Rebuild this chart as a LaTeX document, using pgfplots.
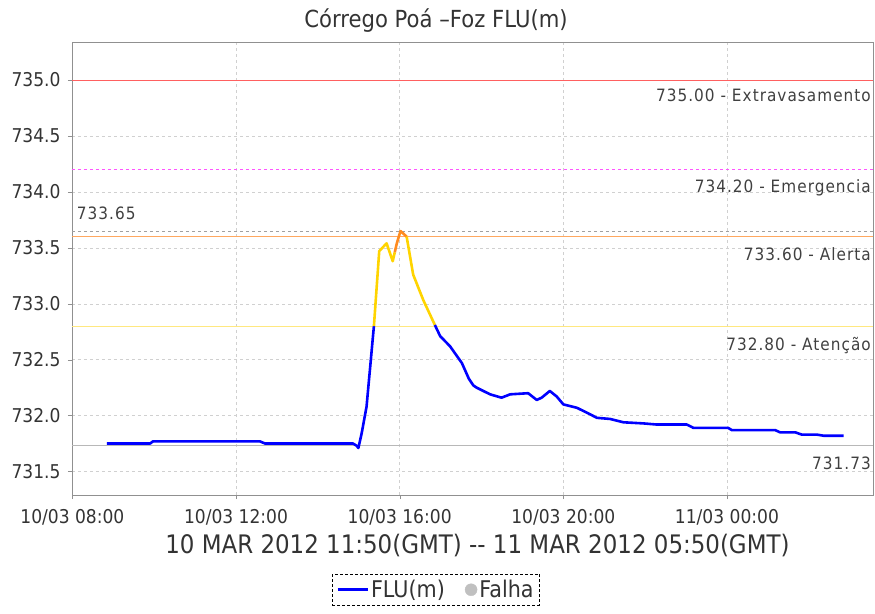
\documentclass[border=0pt]{standalone}
\usepackage{fontspec}
\setmainfont{DejaVu Sans}[FakeStretch=0.9]
\newfontfamily\lblfont{DejaVu Sans}[FakeStretch=0.9,LetterSpace=6]
\usepackage{pgfplots}
\pgfplotsset{compat=1.18}
\definecolor{gridgray}{HTML}{D0D0D0}
\definecolor{axisgray}{HTML}{909090}
\definecolor{txt}{HTML}{333333}
\definecolor{lbl}{HTML}{404040}
\definecolor{redline}{HTML}{FF6060}
\definecolor{magline}{HTML}{FF55FF}
\definecolor{orline}{HTML}{FFA860}
\definecolor{yelline}{HTML}{FFE880}
\definecolor{grayd}{HTML}{A0A0A0}
\definecolor{grays}{HTML}{B8B8B8}
\definecolor{datayel}{HTML}{FFD400}
\definecolor{dataor}{HTML}{FF8C20}
\definecolor{datablue}{HTML}{0000FF}
\definecolor{falha}{HTML}{C0C0C0}
\begin{document}
\begin{tikzpicture}
\useasboundingbox (-72pt,-118pt) rectangle (803pt,495pt);
\begin{axis}[
  scale only axis, width=801pt, height=453pt,
  at={(0pt,0pt)}, anchor=south west,
  xmin=7.99, xmax=27.57, ymin=731.29, ymax=735.34,
  xtick={8,12,16,20,24},
  xticklabels={10/03 08:00,10/03 12:00,10/03 16:00,10/03 20:00,11/03 00:00},
  ytick={731.5,732,732.5,733,733.5,734,734.5,735},
  yticklabel style={xshift=-4pt, /pgf/number format/.cd, fixed, fixed zerofill, precision=1, 1000 sep={}},
  /pgf/number format/assume math mode=true,
  tick align=outside, xtick pos=bottom, ytick pos=left,
  major tick length=4pt,
  grid=major, grid style={dashed, color=gridgray},
  axis line style={axisgray},
  tick style={axisgray},
  ticklabel style={font=\fontsize{19}{22}\selectfont, text=txt},
  xticklabel style={anchor=base, yshift=-24pt},
  title={Córrego Poá –Foz FLU(m)},
  title style={font=\fontsize{23.5}{27}\selectfont, text=txt, at={(axis description cs:0.4544,1)}, anchor=base, yshift=8pt},
  xlabel={10 MAR 2012 11:50(GMT) -{}- 11 MAR 2012 05:50(GMT)},
  xlabel style={font=\fontsize{25.5}{28}\selectfont, text=txt, at={(axis description cs:0.5062,0)}, anchor=base, yshift=-58pt},
  legend columns=2,
  legend style={at={(axis description cs:0.4544,-0.1745)}, anchor=north, draw=black, densely dashed, font=\fontsize{23}{27}\selectfont, text=txt, inner sep=4pt, /tikz/every even column/.append style={column sep=18pt}},
  legend image code/.code={\draw[#1, solid] (0pt,0pt) -- (30pt,0pt);},
]
% threshold lines
\addplot[redline, line width=0.8pt, forget plot] coordinates {(7.99,735) (27.57,735)};
\addplot[magline, line width=0.8pt, dashed, forget plot] coordinates {(7.99,734.2) (27.57,734.2)};
\addplot[grayd, line width=0.8pt, dashed, forget plot] coordinates {(7.99,733.65) (27.57,733.65)};
\addplot[orline, line width=1pt, forget plot] coordinates {(7.99,733.6) (27.57,733.6)};
\addplot[yelline, line width=1pt, forget plot] coordinates {(7.99,732.8) (27.57,732.8)};
\addplot[grays, line width=0.8pt, forget plot] coordinates {(7.99,731.73) (27.57,731.73)};
% data
\addplot[datablue, line width=2.6pt, line join=round] coordinates {
(8.84,731.75) (9.90,731.75) (9.97,731.77) (12.58,731.77) (12.71,731.75) (14.86,731.75)
(14.95,731.73) (14.99,731.71) (15.07,731.84) (15.19,732.08) (15.35,732.72) (15.37,732.80)};
\addlegendentry{FLU(m)}
\addlegendimage{legend image code/.code={\fill[falha] (6pt,0pt) circle (6pt);}}
\addlegendentry{Falha}
\addplot[datayel, line width=2.6pt, line join=round, forget plot] coordinates {
(15.37,732.80) (15.50,733.47) (15.68,733.54) (15.83,733.38) (15.88,733.46)};
\addplot[dataor, line width=2.6pt, line join=round, forget plot] coordinates {
(15.88,733.46) (15.93,733.54) (16.02,733.65) (16.17,733.60)};
\addplot[datayel, line width=2.6pt, line join=round, forget plot] coordinates {
(16.17,733.60) (16.33,733.26) (16.58,733.03) (16.86,732.81)};
\addplot[datablue, line width=2.6pt, line join=round, forget plot] coordinates {
(16.86,732.81) (16.99,732.71) (17.23,732.62) (17.52,732.47) (17.69,732.33) (17.80,732.27)
(17.88,732.25) (18.21,732.19) (18.49,732.16) (18.70,732.19) (19.14,732.20) (19.35,732.14)
(19.47,732.16) (19.67,732.22) (19.84,732.17) (20.00,732.10) (20.33,732.07) (20.61,732.02)
(20.82,731.98) (21.14,731.97) (21.47,731.94) (21.96,731.93) (22.28,731.92) (23.02,731.92)
(23.18,731.89) (24.03,731.89) (24.12,731.87) (25.18,731.87) (25.30,731.85) (25.67,731.85)
(25.83,731.83) (26.20,731.83) (26.36,731.82) (26.85,731.82)};
% labels
\node[anchor=north east, inner sep=0pt, text=lbl, font=\lblfont\fontsize{17}{20}\selectfont] at (axis cs:27.57,735) [xshift=-2pt, yshift=-9pt] {735.00 - Extravasamento};
\node[anchor=north east, inner sep=0pt, text=lbl, font=\lblfont\fontsize{17}{20}\selectfont] at (axis cs:27.57,734.2) [xshift=-2pt, yshift=-10pt] {734.20 - Emergencia};
\node[anchor=north east, inner sep=0pt, text=lbl, font=\lblfont\fontsize{17}{20}\selectfont] at (axis cs:27.57,733.6) [xshift=-2pt, yshift=-11pt] {733.60 - Alerta};
\node[anchor=north east, inner sep=0pt, text=lbl, font=\lblfont\fontsize{17}{20}\selectfont] at (axis cs:27.57,732.8) [xshift=-2pt, yshift=-10.5pt] {732.80 - Atenção};
\node[anchor=north east, inner sep=0pt, text=lbl, font=\lblfont\fontsize{17}{20}\selectfont] at (axis cs:27.57,731.73) [xshift=-2pt, yshift=-10.5pt] {731.73};
\node[anchor=base west, inner sep=0pt, text=lbl, font=\lblfont\fontsize{17}{20}\selectfont] at (axis cs:7.99,733.65) [xshift=4.7pt, yshift=11.7pt] {733.65};
\end{axis}
\end{tikzpicture}
\end{document}
